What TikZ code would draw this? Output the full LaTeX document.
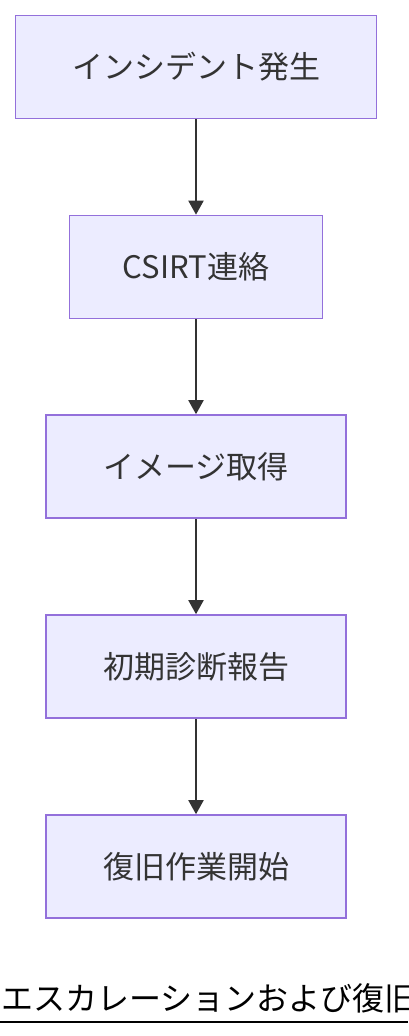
\documentclass[tikz,border=0pt]{standalone}
\usepackage{fontspec}
\setmainfont{Noto Sans CJK JP}
\usetikzlibrary{arrows.meta}
\definecolor{boxfill}{HTML}{ECECFF}
\definecolor{boxline}{HTML}{9370DB}
\definecolor{ink}{HTML}{333333}
\tikzset{
  stepbox/.style={draw=boxline, fill=boxfill, line width=1.6pt, minimum height=103pt,
    text=ink, font=\fontsize{31}{36}\selectfont, inner sep=0pt},
  flow/.style={draw=ink, line width=2pt, -{Triangle[width=15pt,length=14pt]}},
}
\begin{document}
\begin{tikzpicture}[x=1pt,y=-1pt]
\useasboundingbox (0,0) rectangle (408,1036);
\node[stepbox, minimum width=361pt] (n1) at (196,67) {インシデント発生};
\node[stepbox, minimum width=253pt] (n2) at (196,267) {CSIRT連絡};
\node[stepbox, minimum width=300pt] (n3) at (196,466.5) {イメージ取得};
\node[stepbox, minimum width=300pt] (n4) at (196,666.5) {初期診断報告};
\node[stepbox, minimum width=300pt] (n5) at (196,866.5) {復旧作業開始};
\draw[flow] (n1) -- (n2);
\draw[flow] (n2) -- (n3);
\draw[flow] (n3) -- (n4);
\draw[flow] (n4) -- (n5);
\node[anchor=base west, inner sep=0pt, text=black, font=\fontsize{32}{36}\selectfont] (cap) at (1,1010) {エスカレーションおよび復旧};
\coordinate (ul1) at (0,1022);
\coordinate (ul2) at (408,1022);
\draw[black, line width=2pt] (ul1) -- (ul2);
\end{tikzpicture}
\end{document}
